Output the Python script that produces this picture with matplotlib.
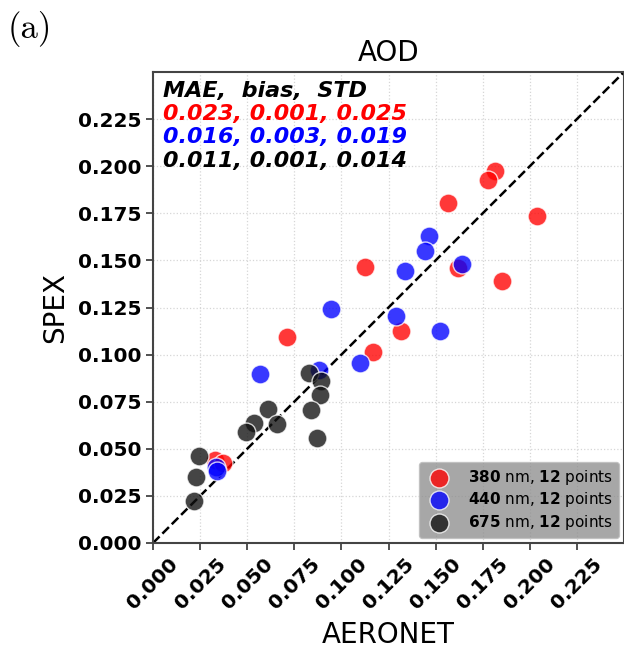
import matplotlib
matplotlib.use("Agg")
import matplotlib.pyplot as plt
import numpy as np

plt.rcParams['mathtext.fontset'] = 'dejavusans'

# ---- data ----
red_x = [0.1816, 0.1776, 0.1568, 0.2040, 0.1127, 0.1621, 0.1855, 0.1317, 0.1170, 0.0710, 0.0330, 0.0374]
red_y = [0.1976, 0.1927, 0.1806, 0.1737, 0.1463, 0.1458, 0.1391, 0.1125, 0.1012, 0.1093, 0.0441, 0.0423]

blue_x = [0.1467, 0.1446, 0.1641, 0.1336, 0.0943, 0.1288, 0.1524, 0.1101, 0.0883, 0.0568, 0.0333, 0.0340]
blue_y = [0.1630, 0.1550, 0.1481, 0.1442, 0.1242, 0.1203, 0.1127, 0.0955, 0.0920, 0.0897, 0.0405, 0.0380]

black_x = [0.0830, 0.0892, 0.0889, 0.0609, 0.0837, 0.0537, 0.0659, 0.0494, 0.0869, 0.0246, 0.0227, 0.0216]
black_y = [0.0904, 0.0862, 0.0786, 0.0713, 0.0708, 0.0635, 0.0630, 0.0591, 0.0557, 0.0462, 0.0349, 0.0221]

labels = [r'$\bf{380}$ nm, $\bf{12}$ points',
          r'$\bf{440}$ nm, $\bf{12}$ points',
          r'$\bf{675}$ nm, $\bf{12}$ points']
colors = ['red', 'blue', '#111111']
stats_header = 'MAE,  bias,  STD'
stats_lines = ['0.023, 0.001, 0.025', '0.016, 0.003, 0.019', '0.011, 0.001, 0.014']
stats_colors = ['red', 'blue', 'black']
ticks = [0.000, 0.025, 0.050, 0.075, 0.100, 0.125, 0.150, 0.175, 0.200, 0.225]
lim = (0.0, 0.25)

# ---- figure ----
W, H = 624, 650
fig = plt.figure(figsize=(W / 100, H / 100), dpi=100)
ax = fig.add_axes([153 / W, (H - 543) / H, 471 / W, 471 / H])

ax.grid(True, linestyle=':', color='#d6d6d6', linewidth=0.9, zorder=0)
ax.set_axisbelow(True)

ax.plot(lim, lim, '--', color='black', linewidth=1.8, zorder=1)

for xs, ys, c, lab in zip([red_x, blue_x, black_x], [red_y, blue_y, black_y], colors, labels):
    ax.scatter(xs, ys, s=185, color=c, alpha=0.78, edgecolors='white', linewidths=1.0,
               label=lab, zorder=3)

ax.set_xlim(lim)
ax.set_ylim(lim)
ax.set_xticks(ticks)
ax.set_yticks(ticks)
ax.set_xticklabels([f'{t:.3f}' for t in ticks], rotation=45, fontsize=14.5, fontweight='bold')
ax.set_yticklabels([f'{t:.3f}' for t in ticks], fontsize=14.5, fontweight='bold')
ax.tick_params(axis='both', length=5, width=1.2, color='#333333')
for sp in ax.spines.values():
    sp.set_color('#444444')
    sp.set_linewidth(1.5)

ax.set_title('AOD', fontsize=20, pad=8)
ax.set_xlabel('AERONET', fontsize=20, labelpad=6)
ax.set_ylabel('SPEX', fontsize=20, labelpad=6)

ax.text(0.021, 0.947, stats_header, transform=ax.transAxes, fontsize=16,
        fontweight='bold', style='italic', color='black', va='baseline')
for i, (t, c) in enumerate(zip(stats_lines, stats_colors)):
    ax.text(0.021, 0.898 - 0.0495 * i, t, transform=ax.transAxes, fontsize=16,
            fontweight='bold', style='italic', color=c, va='baseline')

leg = ax.legend(loc='lower right', fontsize=11, facecolor='#8a8a8a', framealpha=0.75,
                edgecolor='#bbbbbb', labelspacing=0.25, borderaxespad=0.35,
                handletextpad=0.9, borderpad=0.35, markerscale=1.0)

fig.text(8 / W, 1 - 38 / H, '(a)', fontsize=25, family='cmr10')

fig.savefig('out.png', dpi=100)
